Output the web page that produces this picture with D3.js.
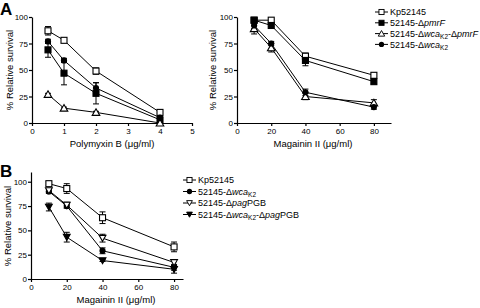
<!DOCTYPE html>
<html>
<head>
<meta charset="utf-8">
<script src="https://cdn.jsdelivr.net/npm/d3@7"></script>
<style>
  body { margin: 0; background: #fff; }
  svg { font-family: "Liberation Sans", Arial, Helvetica, sans-serif; }
  .axis path, .axis line { stroke: #000; stroke-width: 1.2px; }
  .axis text { font-size: 8px; fill: #000; }
</style>
</head>
<body>
<div id="chart-area"></div>
<script>
// Panel A, left: polymyxin B
var polyDose = [0.5, 1, 2, 4];
var polyKp = [87, 78, 49, 10],      polyKpErr = [4, 1, 3, 2];
var polyPmrF = [69, 47, 28, 3],     polyPmrFErr = [7, 11, 10, 2];
var polyWcaPmrF = [27, 14, 10, 0],  polyWcaPmrFErr = [1, 1, 1, 1];
var polyWca = [77, 59, 33, 5],      polyWcaErr = [2, 2, 5, 2];

// Panel A, right: magainin II
var magDose = [10, 20, 40, 80];
var magKp = [97, 97, 63, 45],       magKpErr = [2, 1, 3, 2];
var magPmrF = [97, 92, 59, 39],     magPmrFErr = [1, 1, 5, 2];
var magWcaPmrF = [89, 71, 25, 19],  magWcaPmrFErr = [5, 4, 3, 3];
var magWca = [92, 75, 29, 15],      magWcaErr = [3, 2, 3, 2];

// Panel B: magainin II
var bDose = [10, 20, 40, 80];
var bKp = [98, 93, 63, 33],         bKpErr = [2, 5, 6, 5];
var bWca = [90, 75, 29, 12],        bWcaErr = [2, 2, 3, 3];
var bPagP = [91, 76, 42, 17],       bPagPErr = [2, 3, 4, 3];
var bWcaPagP = [74, 43, 19, 10],    bWcaPagPErr = [4, 5, 1, 4];

var yTicks = [0, 25, 50, 75, 100];
var polyTicks = [0, 1, 2, 3, 4, 5];
var magTicks = [0, 20, 40, 60, 80];

// legend labels: [text, style] where i = italic, s = subscript
var lblKp = [["Kp52145", ""]];
var lblPmrF = [["52145-\u0394", ""], ["pmrF", "i"]];
var lblWcaPmrF = [["52145-\u0394", ""], ["wca", "i"], ["K2", "s"], ["-\u0394", ""], ["pmrF", "i"]];
var lblWca = [["52145-\u0394", ""], ["wca", "i"], ["K2", "s"]];
var lblPagP = [["52145-\u0394", ""], ["pag", "i"], ["PGB", ""]];
var lblWcaPagP = [["52145-\u0394", ""], ["wca", "i"], ["K2", "s"], ["-\u0394", ""], ["pag", "i"], ["PGB", ""]];

var svg = d3.select("#chart-area")
  .append("svg")
    .attr("width", 480)
    .attr("height", 308);

function marker(sel, s) {
  if (s === "sqOpen" || s === "sqFill") {
    sel.append("rect")
      .attr("x", -3).attr("y", -3).attr("width", 6).attr("height", 6)
      .attr("fill", s === "sqOpen" ? "#fff" : "#000")
      .attr("stroke", "#000").attr("stroke-width", 1.1);
  } else if (s === "circle") {
    sel.append("circle").attr("r", 3.1).attr("fill", "#000");
  } else if (s === "triUp") {
    sel.append("path").attr("d", "M0,-3.6L3.8,3L-3.8,3Z")
      .attr("fill", "#fff").attr("stroke", "#000").attr("stroke-width", 1.1);
  } else if (s === "triDownOpen" || s === "triDownFill") {
    sel.append("path").attr("d", "M0,3.2L3.4,-2.8L-3.4,-2.8Z")
      .attr("fill", s === "triDownOpen" ? "#fff" : "#000")
      .attr("stroke", "#000").attr("stroke-width", 1.1);
  }
}

function drawPanel(p) {
  var x = d3.scaleLinear().domain(p.xDomain).range(p.xRange);
  var y = d3.scaleLinear().domain(p.yDomain).range(p.yRange);
  var g = svg.append("g");

  g.append("g")
    .attr("class", "axis")
    .attr("transform", "translate(0," + p.yRange[0] + ")")
    .call(d3.axisBottom(x).tickValues(p.xTicks).tickSize(3).tickSizeOuter(0).tickPadding(2).tickFormat(d3.format("d")));

  g.append("g")
    .attr("class", "axis")
    .attr("transform", "translate(" + p.xRange[0] + ",0)")
    .call(d3.axisLeft(y).tickValues(yTicks).tickSize(3).tickSizeOuter(0).tickPadding(1));

  g.append("text")
    .attr("x", p.xLabelPos[0]).attr("y", p.xLabelPos[1])
    .attr("text-anchor", "middle").attr("font-size", "9.5px")
    .text(p.xLabel);

  g.append("text")
    .attr("transform", "translate(" + p.yLabelPos[0] + "," + p.yLabelPos[1] + ") rotate(-90)")
    .attr("text-anchor", "middle").attr("font-size", "9.5px")
    .text("% Relative survival");

  var line = d3.line().x(function(d) { return x(d.x); }).y(function(d) { return y(d.y); });

  var series = p.series.map(function(s) {
    return p.dose.map(function(d, i) { return {x: d, y: s.values[i], e: s.err[i]}; });
  });

  series.forEach(function(pts) {
    g.append("path").datum(pts).attr("d", line)
      .attr("fill", "none").attr("stroke", "#000").attr("stroke-width", 1);
  });

  series.forEach(function(pts) {
    var eb = g.append("g").selectAll("g").data(pts).enter().append("g")
      .attr("stroke", "#000").attr("stroke-width", 1);
    var top = function(d) { return y(d.y + d.e); };
    var bot = function(d) { return y(Math.max(0, d.y - d.e)); };
    eb.append("line")
      .attr("x1", function(d) { return x(d.x); }).attr("x2", function(d) { return x(d.x); })
      .attr("y1", top).attr("y2", bot);
    eb.append("line")
      .attr("x1", function(d) { return x(d.x) - 3; }).attr("x2", function(d) { return x(d.x) + 3; })
      .attr("y1", top).attr("y2", top);
    eb.append("line")
      .attr("x1", function(d) { return x(d.x) - 3; }).attr("x2", function(d) { return x(d.x) + 3; })
      .attr("y1", bot).attr("y2", bot);
  });

  p.series.forEach(function(s, k) {
    series[k].forEach(function(d) {
      marker(g.append("g").attr("transform", "translate(" + x(d.x) + "," + y(d.y) + ")"), s.shape);
    });
  });

  if (!p.legendPos) return;
  var leg = g.append("g").attr("transform", "translate(" + p.legendPos[0] + "," + p.legendPos[1] + ")");
  p.series.forEach(function(s, i) {
    var ly = i * p.legendStep;
    leg.append("line").attr("x1", 0).attr("x2", 13).attr("y1", ly).attr("y2", ly)
      .attr("stroke", "#000").attr("stroke-width", 1);
    marker(leg.append("g").attr("transform", "translate(6.5," + ly + ") scale(0.85)"), s.shape);
    var t = leg.append("text").attr("x", 15).attr("y", ly + 3.3).attr("font-size", "9px");
    s.label.forEach(function(seg) {
      var ts = t.append("tspan").text(seg[0]);
      if (seg[1] === "i") ts.attr("font-style", "italic");
      if (seg[1] === "s") ts.attr("font-size", "6.5px").attr("baseline-shift", "-30%");
    });
  });
}

drawPanel({
  dose: polyDose, xDomain: [0, 5], xRange: [32, 192], yDomain: [0, 100], yRange: [123, 17],
  xTicks: polyTicks, xLabel: "Polymyxin B (\u03bcg/ml)", xLabelPos: [112, 147], yLabelPos: [13, 70],
  series: [
    {values: polyKp, err: polyKpErr, shape: "sqOpen", label: lblKp},
    {values: polyPmrF, err: polyPmrFErr, shape: "sqFill", label: lblPmrF},
    {values: polyWcaPmrF, err: polyWcaPmrFErr, shape: "triUp", label: lblWcaPmrF},
    {values: polyWca, err: polyWcaErr, shape: "circle", label: lblWca}
  ],
  legendPos: null
});

drawPanel({
  dose: magDose, xDomain: [0, 90], xRange: [237, 391], yDomain: [0, 100], yRange: [123, 17],
  xTicks: magTicks, xLabel: "Magainin II (\u03bcg/ml)", xLabelPos: [313, 147], yLabelPos: [216, 70],
  series: [
    {values: magKp, err: magKpErr, shape: "sqOpen", label: lblKp},
    {values: magPmrF, err: magPmrFErr, shape: "sqFill", label: lblPmrF},
    {values: magWcaPmrF, err: magWcaPmrFErr, shape: "triUp", label: lblWcaPmrF},
    {values: magWca, err: magWcaErr, shape: "circle", label: lblWca}
  ],
  legendPos: [375, 12], legendStep: 10.8
});

drawPanel({
  dose: bDose, xDomain: [0, 85], xRange: [31, 183], yDomain: [0, 110], yRange: [279, 172],
  xTicks: magTicks, xLabel: "Magainin II (\u03bcg/ml)", xLabelPos: [116, 303], yLabelPos: [11, 226],
  series: [
    {values: bKp, err: bKpErr, shape: "sqOpen", label: lblKp},
    {values: bWca, err: bWcaErr, shape: "circle", label: lblWca},
    {values: bPagP, err: bPagPErr, shape: "triDownOpen", label: lblPagP},
    {values: bWcaPagP, err: bWcaPagPErr, shape: "triDownFill", label: lblWcaPagP}
  ],
  legendPos: [183, 180], legendStep: 11.5
});

svg.append("text").attr("x", 0).attr("y", 15).attr("font-size", "17px").attr("font-weight", "bold").text("A");
svg.append("text").attr("x", 0).attr("y", 177).attr("font-size", "17px").attr("font-weight", "bold").text("B");
</script>
</body>
</html>
